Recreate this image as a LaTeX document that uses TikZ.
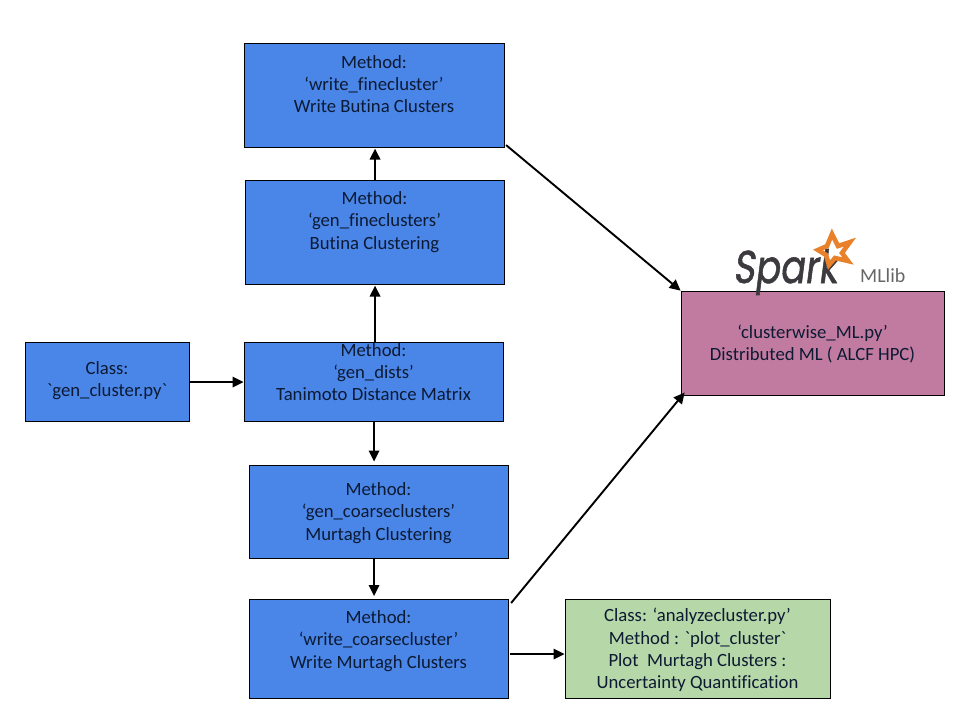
\documentclass[tikz,border=0pt]{standalone}
\usepackage{fontspec}
\setmainfont[Ligatures={NoCommon,TeXOff}]{Carlito}
\newfontfamily\logofont[FakeBold=1.3]{Poppins}
\usetikzlibrary{arrows.meta,calc}
\definecolor{boxblue}{HTML}{4A86E8}
\definecolor{boxpurple}{HTML}{C27BA0}
\definecolor{boxgreen}{HTML}{B6D7A8}
\definecolor{textdark}{HTML}{0C1A33}
\definecolor{sparkorange}{HTML}{E8812A}
\definecolor{sparkgrey}{HTML}{3C3A3E}
\tikzset{
  x=1pt,y=-1pt,
  boxbase/.style={draw=black,line width=1.1pt,inner sep=0pt,anchor=north west},
  boxtext/.style={align=center,font=\fontsize{18.7}{22.2}\selectfont,text=textdark,inner sep=0pt},
  conn/.style={draw=black,line width=1.9pt,-{Triangle[length=11pt,width=10.5pt]},shorten >=0.5pt}
}
% #1 name, #2 x0, #3 y0, #4 x1, #5 y1, #6 fill, #7 text centre y, #8 text
\newcommand{\diagbox}[8]{%
  \pgfmathsetlengthmacro{\bw}{#4-#2}%
  \pgfmathsetlengthmacro{\bh}{#5-#3}%
  \node[boxbase,fill=#6,minimum width=\bw,minimum height=\bh] (#1) at (#2,#3) {};
  \node[boxtext] (#1t) at ($(#2,#7)!0.5!(#4,#7)$) {#8};
}
\begin{document}
\begin{tikzpicture}
\useasboundingbox (0,0) rectangle (960,720);
\fill[white] (0,0) rectangle (960,720);
\diagbox{wf}{244}{43}{504}{147}{boxblue}{84}{Method:\\‘write\_finecluster’\\Write Butina Clusters}
\diagbox{gf}{245}{180}{504}{284}{boxblue}{222}{Method:\\‘gen\_fineclusters’\\Butina Clustering}
\diagbox{gd}{244}{342}{503}{421}{boxblue}{372}{Method:\\‘gen\_dists’\\Tanimoto Distance Matrix}
\diagbox{gc}{25}{342}{189}{421}{boxblue}{381}{Class:\\`gen\_cluster.py`}
\diagbox{cc}{249}{465}{508}{558}{boxblue}{513}{Method:\\‘gen\_coarseclusters’\\Murtagh Clustering}
\diagbox{wc}{249}{599}{508}{698}{boxblue}{641}{Method:\\‘write\_coarsecluster’\\Write Murtagh Clusters}
\diagbox{an}{565}{599}{830}{698}{boxgreen}{650}{Class: ‘analyzecluster.py’\\Method : `plot\_cluster`\\Plot~~Murtagh Clusters :\\Uncertainty Quantification}
\diagbox{ml}{681}{291}{944}{395}{boxpurple}{344}{‘clusterwise\_ML.py’\\Distributed ML ( ALCF HPC)}
% connectors
\draw[conn] (gc.east) -- (gd.west);
\draw[conn] (gf.south |- gd.north) -- (gf.south);
\draw[conn] (gf.north) -- (gf.north |- wf.south);
\draw[conn,shorten >=3.5pt] (gd.south) -- (gd.south |- cc.north);
\draw[conn,shorten >=3pt] ($(cc.south)+(-5,0)$) -- ($(cc.south |- wc.north)+(-5,0)$);
\draw[conn] ($(wc.east)+(1,5)$) -- ($(an.west)+(0,5)$);
\draw[conn] ($(wf.south east)+(1,-3)$) -- (ml.north west);
\draw[conn] ($(wc.north east)+(2,4)$) -- ($(ml.south west)+(4,-4)$);
% Spark logo
\node[font=\logofont\fontsize{46}{46}\selectfont,text=sparkgrey,inner sep=0pt,anchor=base west,xscale=0.8,xslant=0.16] (sparkword) at (733,283) {Spark};
\node[font=\fontsize{20}{20}\selectfont,text=black!60,inner sep=0pt,anchor=base west] (mllib) at (860,282) {MLlib};
\draw[sparkorange,line width=4.6pt,line join=miter,miter limit=6]
  (832,234) -- (838,246) -- (850,242) -- (842,253) -- (848,261) -- (835,258) -- (829,265) -- (826,255) -- (818,250) -- (827,246) -- cycle;
\end{tikzpicture}
\end{document}
